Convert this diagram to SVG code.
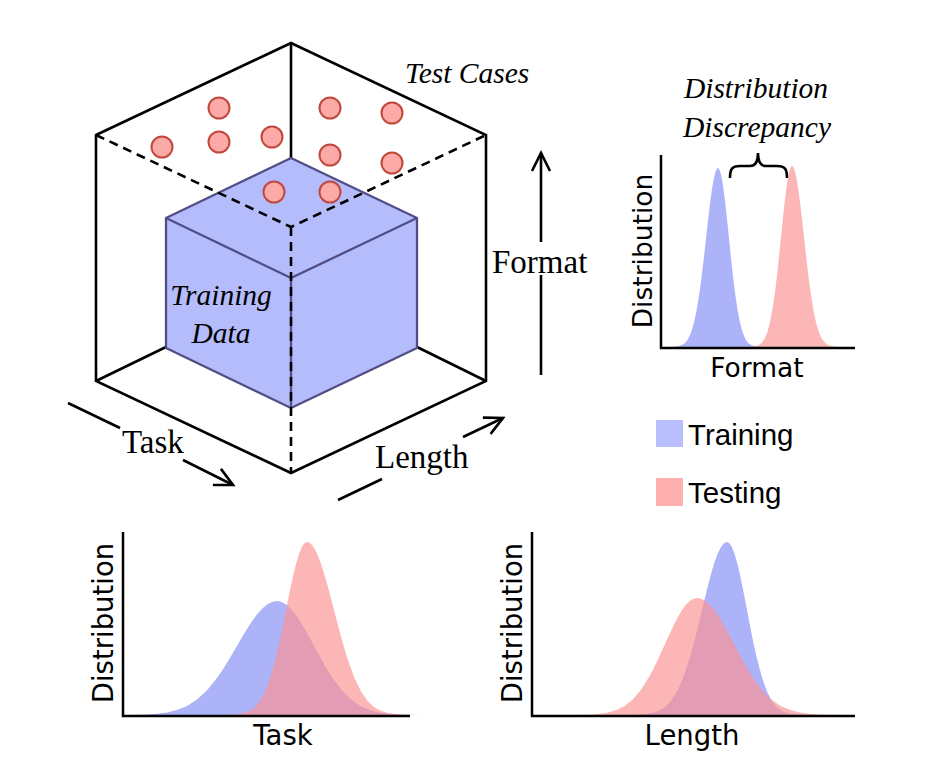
<svg xmlns="http://www.w3.org/2000/svg" xmlns:xlink="http://www.w3.org/1999/xlink" width="935" height="775" viewBox="0 0 935 775">
<style>
.ln{fill:none;stroke:#000;stroke-width:2.6}
.dash{fill:none;stroke:#000;stroke-width:2.6;stroke-dasharray:9,6}
.tc{fill:#fbaaa7;stroke:#c0493c;stroke-width:2}
.serif{font-family:"Liberation Serif","Times New Roman",serif;fill:#000}
.it{font-style:italic;font-size:29.5px}
.rg{font-size:33px}
.sans{font-family:"DejaVu Sans",sans-serif;fill:#000}
.leg{font-family:"Liberation Sans",Arial,sans-serif;font-size:29.5px;fill:#000}
.tr{fill:#adb3f8}
.te{fill:#fc9494;opacity:0.68}
.ax{fill:none;stroke:#000;stroke-width:2.5}
</style>
<defs>
<path id="g" d="M-0.03,0 L-0.03,-1 L0,-1 L0.125,-0.9922 L0.25,-0.9692 L0.375,-0.9321 L0.5,-0.8825 L0.625,-0.8226 L0.75,-0.7548 L0.875,-0.6819 L1,-0.6065 L1.125,-0.5311 L1.25,-0.4578 L1.375,-0.3886 L1.5,-0.3247 L1.75,-0.2163 L2,-0.1353 L2.25,-0.0796 L2.5,-0.0439 L2.75,-0.0228 L3,-0.0111 L3.25,-0.0051 L3.5,-0.0022 L4,0 Z"/>
<marker id="ah" markerUnits="userSpaceOnUse" orient="auto" markerWidth="40" markerHeight="40" refX="0" refY="0" style="overflow:visible">
<path d="M-18,-9 L0,0 L-18,9" fill="none" stroke="#000" stroke-width="2.6"/>
</marker>
</defs>

<g id="cube-frame">
<path class="ln" d="M96,135 L291,43 L486,135 L486,381 L291,473 L96,381 Z"/>
<path class="ln" d="M291,43 L291,158 M96,381 L166,347 M486,381 L417,347"/>
</g>

<g id="training-data">
<path d="M291,158 L417,218 L417,348 L291,408 L166,348 L166,218 Z" fill="#b5bcfb" stroke="#514e86" stroke-width="2.3" stroke-linejoin="round"/>
<path d="M166,218 L291,278 L417,218 M291,278 L291,408" fill="none" stroke="#514e86" stroke-width="2.3"/>
<text class="serif it" x="221" y="305" text-anchor="middle">Training</text>
<text class="serif it" x="221" y="343" text-anchor="middle">Data</text>
</g>

<g id="hidden-edges">
<path class="dash" d="M96,135 L291,227 L486,135"/>
<path class="dash" d="M291,227 L291,473"/>
</g>

<g id="test-cases">
<circle class="tc" cx="219" cy="108" r="10.5"/>
<circle class="tc" cx="162" cy="147" r="10.5"/>
<circle class="tc" cx="219" cy="142" r="10.5"/>
<circle class="tc" cx="272" cy="137" r="10.5"/>
<circle class="tc" cx="330" cy="108" r="10.5"/>
<circle class="tc" cx="392" cy="113" r="10.5"/>
<circle class="tc" cx="330" cy="155" r="10.5"/>
<circle class="tc" cx="392" cy="163" r="10.5"/>
<circle class="tc" cx="274" cy="192" r="10.5"/>
<circle class="tc" cx="330" cy="192" r="10.5"/>
<text class="serif it" x="405" y="83">Test Cases</text>
</g>

<g id="connectors">
<path class="ln" d="M68,403 L120,428"/>
<path class="ln" d="M183,460 L233,485" marker-end="url(#ah)"/>
<path class="ln" d="M338,500 L382,479"/>
<path class="ln" d="M463,437 L503,418" marker-end="url(#ah)"/>
<path class="ln" d="M541,375 L541,275"/>
<path class="ln" d="M541,242 L541,153" marker-end="url(#ah)"/>
</g>

<g id="axis-labels">
<text class="serif rg" x="122" y="453">Task</text>
<text class="serif rg" x="375" y="468">Length</text>
<text class="serif rg" x="492" y="273">Format</text>
</g>

<g id="format-chart">
<text class="serif it" x="756" y="98" text-anchor="middle">Distribution</text>
<text class="serif it" x="757" y="137" text-anchor="middle">Discrepancy</text>
<path class="ln" d="M730,178 C730,169 732,166 740,166 L750,166 C755,166 758,163 758,153 C758,163 761,166 766,166 L777,166 C785,166 787,169 787,178"/>
<g class="tr">
<use xlink:href="#g" transform="translate(718,347) scale(-12,179)"/>
<use xlink:href="#g" transform="translate(718,347) scale(11,179)"/>
</g>
<g class="te">
<use xlink:href="#g" transform="translate(792,347) scale(-11,181)"/>
<use xlink:href="#g" transform="translate(792,347) scale(12,181)"/>
</g>
<path class="ax" d="M661,155 L661,348 L855,348"/>
<text class="sans" font-size="26.5" transform="translate(652,251) rotate(-90)" text-anchor="middle">Distribution</text>
<text class="sans" font-size="26.5" x="757" y="377" text-anchor="middle">Format</text>
</g>

<g id="legend">
<rect x="656" y="420" width="27" height="27" fill="#b9bffc"/>
<text class="leg" x="688" y="445">Training</text>
<rect x="656" y="478" width="27" height="28" fill="#fdb0ae"/>
<text class="leg" x="688" y="503">Testing</text>
</g>

<g id="task-chart">
<g class="tr">
<use xlink:href="#g" transform="translate(277,715) scale(-40,114)"/>
<use xlink:href="#g" transform="translate(277,715) scale(37,114)"/>
</g>
<g class="te">
<use xlink:href="#g" transform="translate(307,715) scale(-21,173)"/>
<use xlink:href="#g" transform="translate(307,715) scale(27,173)"/>
</g>
<path class="ax" d="M123,532 L123,716 L410,716"/>
<text class="sans" font-size="27.5" transform="translate(113,623) rotate(-90)" text-anchor="middle">Distribution</text>
<text class="sans" font-size="27.5" x="283" y="745" text-anchor="middle">Task</text>
</g>

<g id="length-chart">
<g class="tr">
<use xlink:href="#g" transform="translate(727,715) scale(-25,173)"/>
<use xlink:href="#g" transform="translate(727,715) scale(20,173)"/>
</g>
<g class="te">
<use xlink:href="#g" transform="translate(697,715) scale(-32,117)"/>
<use xlink:href="#g" transform="translate(697,715) scale(37,117)"/>
</g>
<path class="ax" d="M532,532 L532,716 L855,716"/>
<text class="sans" font-size="27.5" transform="translate(522,623) rotate(-90)" text-anchor="middle">Distribution</text>
<text class="sans" font-size="27.5" x="692" y="745" text-anchor="middle">Length</text>
</g>
</svg>
